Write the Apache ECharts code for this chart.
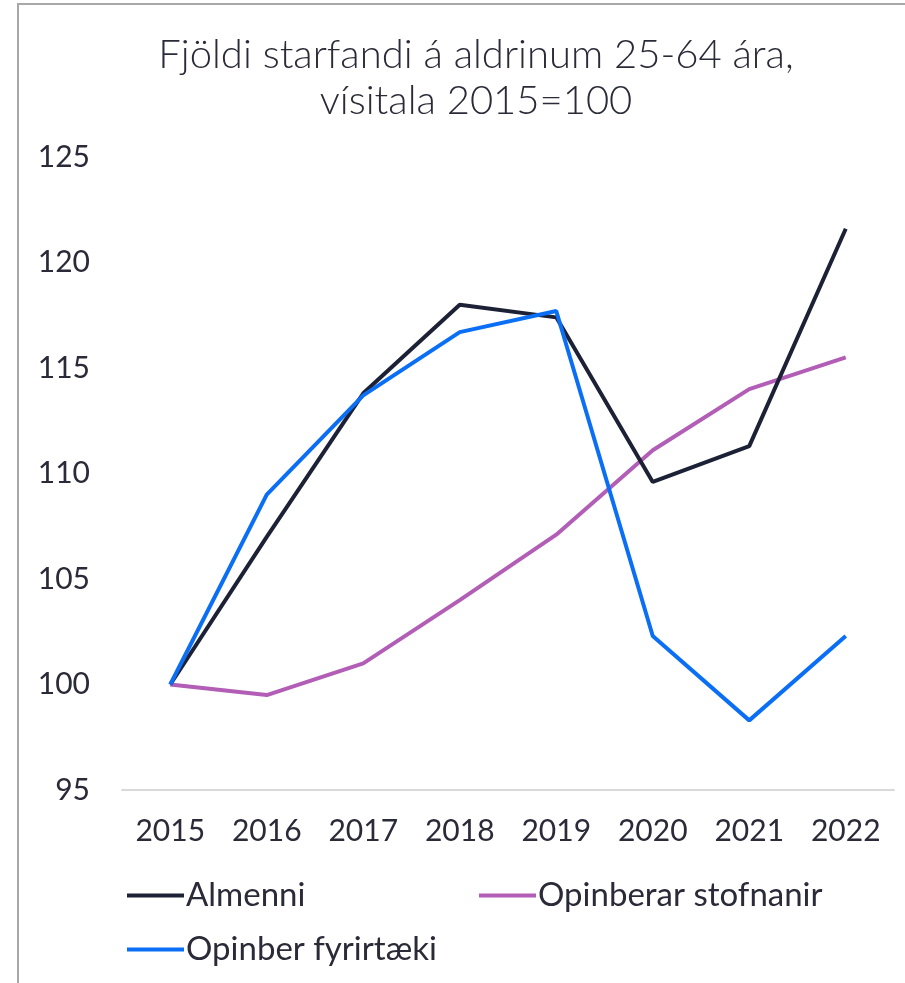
<!DOCTYPE html>
<html>
<head>
<meta charset="utf-8">
<script src="https://cdn.jsdelivr.net/npm/echarts@6/dist/echarts.min.js"></script>
<style>html,body{margin:0;padding:0;background:#fff}#c{width:905px;height:983px}</style>
</head>
<body>
<div id="c"></div>
<script>
var categories = ['2015','2016','2017','2018','2019','2020','2021','2022'];
var almenni = [100, 107.0, 113.8, 118.0, 117.4, 109.6, 111.3, 121.6];
var opinberarStofnanir = [100, 99.5, 101.0, 104.0, 107.1, 111.1, 114.0, 115.5];
var opinberFyrirtaeki = [100, 109.0, 113.7, 116.7, 117.7, 102.3, 98.3, 102.3];
var yTicks = [95, 100, 105, 110, 115, 120, 125];
var titleText = 'Fjöldi starfandi á aldrinum 25-64 ára,\nvísitala 2015=100';

var font = 'Lato';
var chart = echarts.init(document.getElementById('c'), null, {renderer: 'canvas'});
function legendAt(name, left, top) {
  return {
    data: [name], left: left, top: top, orient: 'horizontal',
    itemWidth: 57, itemHeight: 4, itemGap: 0,
    icon: 'rect',
    textStyle: {fontFamily: font, fontSize: 33, color: '#2a2a38', padding: [0,0,0,-3]}
  };
}
chart.setOption({
  backgroundColor: '#fff',
  animation: false,
  title: {
    text: titleText, left: 471, top: 27, textAlign: 'center',
    textStyle: {fontFamily: font, fontWeight: 300, fontSize: 40, lineHeight: 46, color: '#2a2a38'}
  },
  graphic: [{
    type: 'rect', shape: {x: 18, y: 4, width: 1000, height: 1100},
    style: {fill: 'none', stroke: '#a8a8a8', lineWidth: 2}, silent: true
  }],
  legend: [
    legendAt('Almenni', 122, 874),
    legendAt('Opinberar stofnanir', 474, 874),
    legendAt('Opinber fyrirtæki', 122, 928)
  ],
  grid: {left: 122, right: 11, top: 157, bottom: 193, containLabel: false},
  xAxis: {
    type: 'category', data: categories, boundaryGap: true,
    axisLine: {show: true, lineStyle: {color: '#d9d9d9', width: 2}},
    axisTick: {show: false},
    axisLabel: {fontFamily: font, fontSize: 30, color: '#2a2a38', margin: 26}
  },
  yAxis: {
    type: 'value', min: yTicks[0], max: yTicks[yTicks.length-1], interval: 5,
    splitLine: {show: false}, axisLine: {show: false}, axisTick: {show: false},
    axisLabel: {fontFamily: font, fontSize: 30, color: '#2a2a38', margin: 32}
  },
  series: [
    {name: 'Almenni', type: 'line', data: almenni, showSymbol: false, symbol: 'none',
     lineStyle: {color: '#1d2136', width: 4}, itemStyle: {color: '#1d2136'}, z: 3},
    {name: 'Opinberar stofnanir', type: 'line', data: opinberarStofnanir, showSymbol: false, symbol: 'none',
     lineStyle: {color: '#b25db6', width: 4}, itemStyle: {color: '#b25db6'}, z: 2},
    {name: 'Opinber fyrirtæki', type: 'line', data: opinberFyrirtaeki, showSymbol: false, symbol: 'none',
     lineStyle: {color: '#0b6ff5', width: 4}, itemStyle: {color: '#0b6ff5'}, z: 4}
  ]
});
</script>
</body>
</html>
